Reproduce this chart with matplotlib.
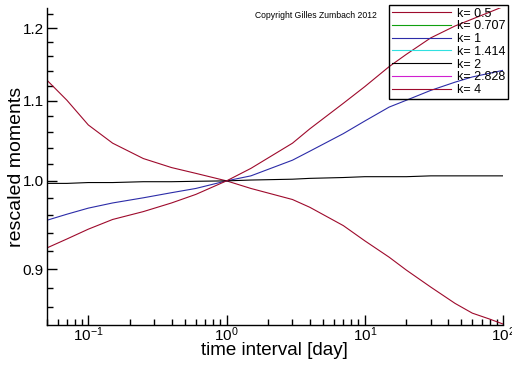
#rescaled moments vs time interval, log-log style plot

import numpy as np
import matplotlib
matplotlib.use('Agg')
import matplotlib.pyplot as plt
from matplotlib.ticker import FixedLocator, FormatStrFormatter, NullFormatter, LogLocator

plt.rcParams['font.family'] = ['Liberation Sans', 'DejaVu Sans']

# time interval in days
time_interval = [0.05, 0.07, 0.1, 0.15, 0.25, 0.4, 0.6, 1, 1.5, 3, 4, 7, 10, 15, 20, 30, 45, 60, 80, 100]

# rescaled moments
moment_k05 = [1.128, 1.101, 1.069, 1.046, 1.027, 1.016, 1.009, 1.0, 0.991, 0.978, 0.969, 0.948,
              0.931, 0.913, 0.899, 0.881, 0.864, 0.854, 0.848, 0.843]
moment_k1 = [0.954, 0.961, 0.968, 0.974, 0.980, 0.986, 0.991, 1.0, 1.006, 1.025, 1.036, 1.058,
             1.074, 1.092, 1.101, 1.114, 1.125, 1.132, 1.137, 1.141]
moment_k2 = [0.997, 0.997, 0.998, 0.998, 0.999, 0.999, 0.9995, 1.0, 1.001, 1.002, 1.003, 1.004,
             1.005, 1.005, 1.005, 1.006, 1.006, 1.006, 1.006, 1.006]
moment_k4 = [0.923, 0.933, 0.944, 0.955, 0.964, 0.974, 0.984, 1.0, 1.015, 1.046, 1.064, 1.097,
             1.119, 1.146, 1.163, 1.186, 1.203, 1.213, 1.223, 1.231]
# these exponents are listed in the legend but not visible in the plot
moment_empty = []

labels = ['k= 0.5', 'k= 0.707', 'k= 1', 'k= 1.414', 'k= 2', 'k= 2.828', 'k= 4']
colors = ['#9e0a2c', '#10a010', '#2c2ca8', '#30e0e0', 'black', '#d020d0', '#9e0a2c']
series = [moment_k05, moment_empty, moment_k1, moment_empty, moment_k2, moment_empty, moment_k4]

y_major = [0.9, 1.0, 1.1, 1.2]
y_minor = np.arange(0.84, 1.235, 0.02)

fig = plt.figure(figsize=(5.12, 3.66), dpi=100)
ax = fig.add_axes([0.0912, 0.112, 0.8912, 0.866])

for lab, col, val in zip(labels, colors, series):
    if len(val) > 0:
        ax.plot(time_interval, val, color=col, lw=0.8, label=lab)
    else:
        ax.plot([], [], color=col, lw=0.8, label=lab)

ax.set_xscale('log')
ax.set_yscale('log')
ax.set_xlim(0.05, 100)
ax.set_ylim(0.842, 1.229)

ax.yaxis.set_major_locator(FixedLocator(y_major))
ax.yaxis.set_minor_locator(FixedLocator(y_minor))
ax.yaxis.set_major_formatter(FormatStrFormatter('%.1f'))
ax.yaxis.set_minor_formatter(NullFormatter())
ax.xaxis.set_major_locator(LogLocator(base=10, numticks=10))
ax.xaxis.set_minor_locator(LogLocator(base=10, subs=np.arange(2, 10), numticks=10))
ax.xaxis.set_minor_formatter(NullFormatter())

ax.spines['top'].set_visible(False)
ax.spines['right'].set_visible(False)
ax.spines['left'].set_linewidth(1.0)
ax.spines['bottom'].set_linewidth(1.0)
ax.tick_params(which='both', direction='in', top=False, right=False, width=1.0, labelsize=11)
ax.tick_params(axis='y', pad=2)
ax.tick_params(axis='x', pad=0)
ax.tick_params(which='major', length=7)
ax.tick_params(which='minor', length=4)

ax.set_xlabel('time interval [day]', fontsize=13.5, labelpad=-1)
ax.set_ylabel('rescaled moments', fontsize=14)
ax.yaxis.set_label_coords(-0.048, 0.5)

fig.text(0.498, 0.959, 'Copyright Gilles Zumbach 2012', fontsize=6.2, ha='left', va='center')

leg = fig.legend(loc='upper right', bbox_to_anchor=(0.992, 0.986), fontsize=9, frameon=True,
                 fancybox=False, facecolor='none', edgecolor='black', borderpad=0.2,
                 labelspacing=0.06, handlelength=4.7, handletextpad=0.5, borderaxespad=0)
leg.get_frame().set_linewidth(1.0)
leg.get_frame().set_alpha(None)

plt.savefig('out.png', dpi=100)
